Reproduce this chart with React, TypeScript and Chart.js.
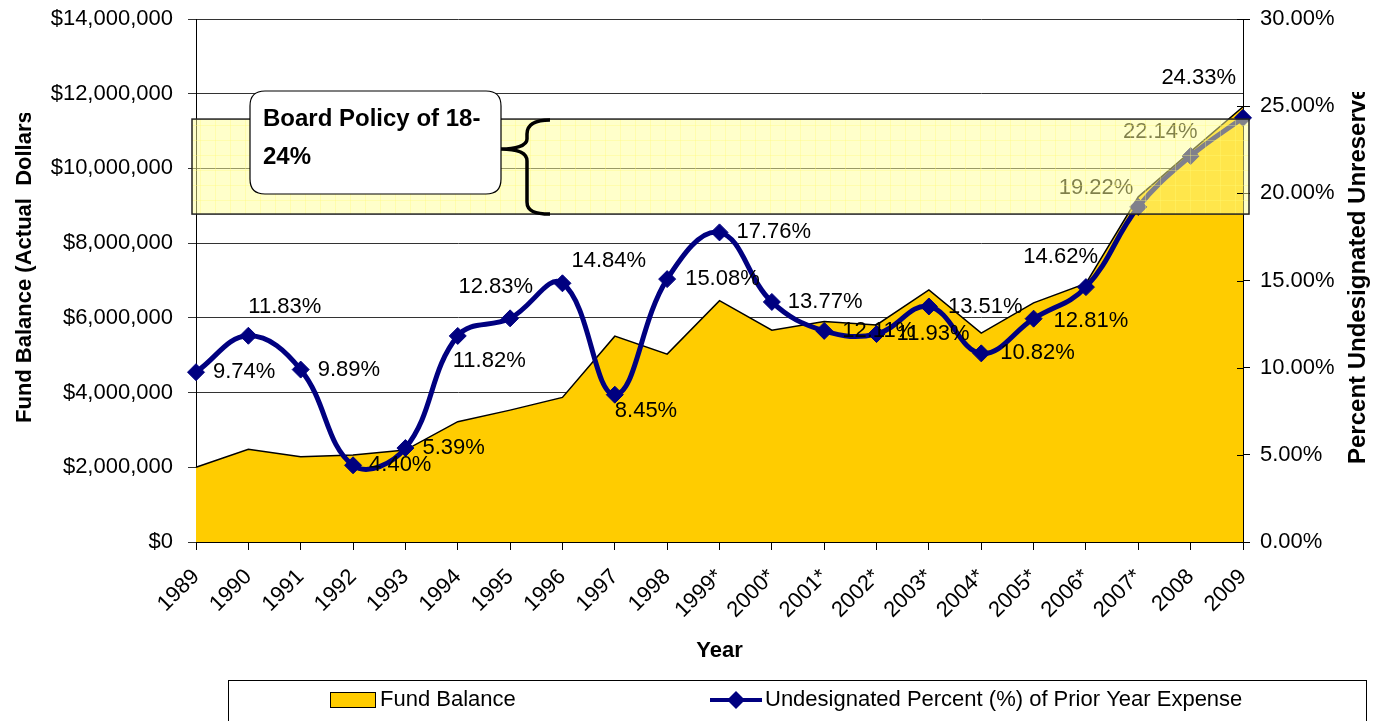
import { useEffect, useRef } from "react";
import { Chart, registerables } from "chart.js";

Chart.register(...registerables);

const years = [
  "1989", "1990", "1991", "1992", "1993", "1994", "1995", "1996", "1997", "1998",
  "1999*", "2000*", "2001*", "2002*", "2003*", "2004*", "2005*", "2006*", "2007*",
  "2008", "2009",
];

const fundBalance = [
  2000000, 2480000, 2280000, 2330000, 2460000, 3220000, 3530000, 3870000, 5510000,
  5030000, 6460000, 5670000, 5900000, 5810000, 6750000, 5590000, 6400000, 6920000,
  9240000, 10450000, 11650000,
];

const undesignatedPct = [
  9.74, 11.83, 9.89, 4.4, 5.39, 11.82, 12.83, 14.84, 8.45, 15.08, 17.76, 13.77,
  12.11, 11.93, 13.51, 10.82, 12.81, 14.62, 19.22, 22.14, 24.33,
];

const leftTicks = [0, 2000000, 4000000, 6000000, 8000000, 10000000, 12000000, 14000000];
const rightTicks = [0, 5, 10, 15, 20, 25, 30];

const policyBand = [18.81, 24.26];

const seriesNames = ["Fund Balance", "Undesignated Percent (%) of Prior Year Expense"];

// label placement: [dx, dy, align]
const labelPlacement: [number, number, CanvasTextAlign][] = [
  [17, 0, "left"], [0, -29, "left"], [17, 0, "left"], [16, 0, "left"], [17, 0, "left"],
  [-5, 25, "left"], [23, -31, "right"], [9, -22, "left"], [0, 16, "left"], [18, 0, "left"],
  [17, 0, "left"], [16, 0, "left"], [18, 0, "left"], [20, 0, "left"], [19, 0, "left"],
  [19, 0, "left"], [20, 2, "left"], [12, -30, "right"], [-5, -19, "right"], [7, -24, "right"],
  [-7, -40, "right"],
];

const FONT = '"Liberation Sans", Arial, sans-serif';

const overlayPlugin = {
  id: "overlay",
  afterDatasetsDraw(chart: any) {
    const ctx: CanvasRenderingContext2D = chart.ctx;
    const area = chart.chartArea;
    const meta = chart.getDatasetMeta(1);
    const y1 = chart.scales.y1;

    // data labels
    ctx.save();
    ctx.font = `22px ${FONT}`;
    ctx.fillStyle = "#000";
    ctx.textBaseline = "middle";
    meta.data.forEach((pt: any, i: number) => {
      const [dx, dy, align] = labelPlacement[i];
      ctx.textAlign = align;
      ctx.fillText(undesignatedPct[i].toFixed(2) + "%", pt.x + dx, pt.y + dy);
    });
    ctx.restore();

    // policy band
    const bTop = y1.getPixelForValue(policyBand[1]);
    const bBot = y1.getPixelForValue(policyBand[0]);
    const bLeft = area.left - 4;
    const bRight = area.right + 6;
    ctx.save();
    ctx.fillStyle = "rgba(255,255,150,0.5)";
    ctx.fillRect(bLeft, bTop, bRight - bLeft, bBot - bTop);
    ctx.beginPath();
    ctx.rect(bLeft, bTop, bRight - bLeft, bBot - bTop);
    ctx.clip();
    ctx.strokeStyle = "rgba(255,250,120,0.35)";
    ctx.lineWidth = 1;
    ctx.beginPath();
    for (let x = bLeft + 8; x < bRight; x += 15) {
      ctx.moveTo(Math.round(x) + 0.5, bTop);
      ctx.lineTo(Math.round(x) + 0.5, bBot);
    }
    for (let y = bTop + 6; y < bBot; y += 15) {
      ctx.moveTo(bLeft, Math.round(y) + 0.5);
      ctx.lineTo(bRight, Math.round(y) + 0.5);
    }
    ctx.stroke();
    ctx.restore();
    ctx.save();
    ctx.strokeStyle = "#222";
    ctx.lineWidth = 1.5;
    ctx.strokeRect(bLeft, bTop, bRight - bLeft, bBot - bTop);
    ctx.restore();

    // callout box
    const bx = area.left + 54;
    const by = area.top + 72;
    const bw = 251;
    const bh = 103;
    const r = 15;
    ctx.save();
    ctx.beginPath();
    ctx.moveTo(bx + r, by);
    ctx.lineTo(bx + bw - r, by);
    ctx.quadraticCurveTo(bx + bw, by, bx + bw, by + r);
    ctx.lineTo(bx + bw, by + bh - r);
    ctx.quadraticCurveTo(bx + bw, by + bh, bx + bw - r, by + bh);
    ctx.lineTo(bx + r, by + bh);
    ctx.quadraticCurveTo(bx, by + bh, bx, by + bh - r);
    ctx.lineTo(bx, by + r);
    ctx.quadraticCurveTo(bx, by, bx + r, by);
    ctx.closePath();
    ctx.fillStyle = "#fff";
    ctx.fill();
    ctx.strokeStyle = "#000";
    ctx.lineWidth = 1.2;
    ctx.stroke();
    ctx.fillStyle = "#000";
    ctx.font = `bold 24px ${FONT}`;
    ctx.textAlign = "left";
    ctx.textBaseline = "alphabetic";
    ctx.fillText("Board Policy of 18-", bx + 13, by + 35);
    ctx.fillText("24%", bx + 13, by + 73);

    // brace
    const tipX = area.left + 354;
    const midX = area.left + 331;
    const cuspX = area.left + 307;
    const yT = bTop + 1;
    const yB = bBot;
    const yC = bTop + 30;
    ctx.beginPath();
    ctx.moveTo(tipX, yT);
    ctx.bezierCurveTo(tipX - 15, yT, midX, yT + 4, midX, yT + 14);
    ctx.lineTo(midX, yC - 10);
    ctx.bezierCurveTo(midX, yC - 3, cuspX + 12, yC, cuspX - 2, yC);
    ctx.moveTo(cuspX - 2, yC);
    ctx.bezierCurveTo(cuspX + 12, yC, midX, yC + 3, midX, yC + 12);
    ctx.lineTo(midX, yB - 12);
    ctx.bezierCurveTo(midX, yB - 3, tipX - 15, yB, tipX, yB);
    ctx.lineWidth = 3.5;
    ctx.strokeStyle = "#000";
    ctx.stroke();
    ctx.restore();
  },
  afterDraw(chart: any) {
    const ctx: CanvasRenderingContext2D = chart.ctx;
    const area = chart.chartArea;
    const y1 = chart.scales.y1;

    // inner tick marks on right axis
    ctx.save();
    ctx.strokeStyle = "#000";
    ctx.lineWidth = 1;
    ctx.beginPath();
    rightTicks.forEach((v) => {
      const py = Math.round(y1.getPixelForValue(v)) + 0.5;
      ctx.moveTo(area.right - 6, py);
      ctx.lineTo(area.right, py);
    });
    ctx.stroke();
    ctx.restore();

    // axis titles
    ctx.save();
    ctx.fillStyle = "#000";
    ctx.font = `bold 22px ${FONT}`;
    ctx.textAlign = "center";
    ctx.textBaseline = "middle";
    ctx.fillText("Year", (area.left + area.right) / 2, 651);

    ctx.save();
    ctx.beginPath();
    ctx.rect(0, 113, 60, 400);
    ctx.clip();
    ctx.translate(25, 423);
    ctx.rotate(-Math.PI / 2);
    ctx.textAlign = "left";
    ctx.fillText("Fund Balance (Actual  Dollars)", 0, 0);
    ctx.restore();

    ctx.save();
    ctx.beginPath();
    ctx.rect(1320, 92, 56, 400);
    ctx.clip();
    ctx.font = `bold 24px ${FONT}`;
    ctx.translate(1358, 464);
    ctx.rotate(-Math.PI / 2);
    ctx.textAlign = "left";
    ctx.fillText("Percent Undesignated Unreserved", 0, 0);
    ctx.restore();

    // legend
    ctx.strokeStyle = "#000";
    ctx.lineWidth = 1;
    ctx.strokeRect(228.5, 680.5, 1138, 50);
    ctx.fillStyle = "#FFCC00";
    ctx.fillRect(330, 692, 46, 16);
    ctx.strokeRect(330.5, 692.5, 45, 15);
    ctx.fillStyle = "#000";
    ctx.font = `22px ${FONT}`;
    ctx.textAlign = "left";
    ctx.fillText(seriesNames[0], 380, 700);
    ctx.strokeStyle = "#000080";
    ctx.lineWidth = 4;
    ctx.beginPath();
    ctx.moveTo(710, 700);
    ctx.lineTo(762, 700);
    ctx.stroke();
    ctx.fillStyle = "#000080";
    ctx.beginPath();
    ctx.moveTo(736, 691);
    ctx.lineTo(745, 700);
    ctx.lineTo(736, 709);
    ctx.lineTo(727, 700);
    ctx.closePath();
    ctx.fill();
    ctx.fillStyle = "#000";
    ctx.fillText(seriesNames[1], 765, 700);
    ctx.restore();
  },
};

export default function App() {
  const ref = useRef<HTMLCanvasElement | null>(null);

  useEffect(() => {
    if (!ref.current) return;
    Chart.defaults.font.family = FONT;
    const chart = new Chart(ref.current, {
      type: "line",
      data: {
        labels: years,
        datasets: [
          {
            label: seriesNames[0],
            data: fundBalance,
            yAxisID: "y",
            fill: "origin",
            backgroundColor: "#FFCC00",
            borderColor: "#000",
            borderWidth: 1.5,
            pointRadius: 0,
            tension: 0,
            order: 1,
          },
          {
            label: seriesNames[1],
            data: undesignatedPct,
            yAxisID: "y1",
            fill: false,
            borderColor: "#000080",
            borderWidth: 5,
            pointStyle: "rectRot",
            pointRadius: 8.5,
            pointBackgroundColor: "#000080",
            pointBorderColor: "#000080",
            pointBorderWidth: 1,
            tension: 0.4,
            order: 0,
          },
        ],
      },
      options: {
        responsive: false,
        animation: false,
        events: [],
        layout: { padding: { top: 19, left: 0, right: 0, bottom: 0 } },
        plugins: {
          legend: { display: false },
          tooltip: { enabled: false },
          title: { display: false },
        },
        scales: {
          x: {
            offset: false,
            grid: { drawOnChartArea: false, drawTicks: true, tickLength: 8, color: "#000" },
            border: { display: true, color: "#000", width: 1 },
            ticks: {
              font: { size: 22 },
              color: "#000",
              maxRotation: 45,
              minRotation: 45,
              padding: 14,
              autoSkip: false,
            },
            afterFit: (s: any) => {
              s.height = 179;
              s.paddingLeft = 0;
              s.paddingRight = 0;
            },
          },
          y: {
            position: "left",
            min: 0,
            max: 14000000,
            afterBuildTicks: (s: any) => {
              s.ticks = leftTicks.map((v) => ({ value: v }));
            },
            grid: { color: "#333", lineWidth: 1, tickLength: 8 },
            border: { display: true, color: "#000", width: 1 },
            ticks: {
              font: { size: 22 },
              color: "#000",
              padding: 15,
              callback: (v: any) => "$" + Number(v).toLocaleString("en-US"),
            },
            afterFit: (s: any) => {
              s.width = 196;
              s.paddingTop = 0;
              s.paddingBottom = 0;
            },
          },
          y1: {
            position: "right",
            min: 0,
            max: 30,
            afterBuildTicks: (s: any) => {
              s.ticks = rightTicks.map((v) => ({ value: v }));
            },
            grid: { drawOnChartArea: false, color: "#000", tickLength: 7 },
            border: { display: true, color: "#000", width: 1 },
            ticks: {
              font: { size: 22 },
              color: "#000",
              padding: 10,
              callback: (v: any) => Number(v).toFixed(2) + "%",
            },
            afterFit: (s: any) => {
              s.width = 133;
              s.paddingTop = 0;
              s.paddingBottom = 0;
            },
          },
        },
      },
      plugins: [overlayPlugin],
    });
    return () => chart.destroy();
  }, []);

  return (
    <div style={{ position: "fixed", left: 0, top: 0, width: 1376, height: 721, background: "#fff" }}>
      <canvas ref={ref} width={1376} height={721} />
    </div>
  );
}
